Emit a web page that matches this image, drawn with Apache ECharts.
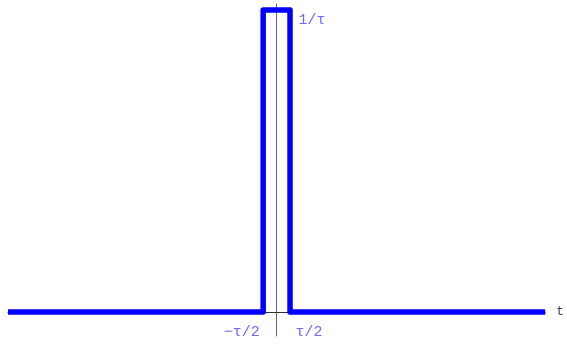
<!DOCTYPE html>
<html>
<head>
<meta charset="utf-8">
<style>
  html, body { margin: 0; padding: 0; background: #fff; }
  #chart { width: 567px; height: 344px; }
</style>
<script src="https://cdn.jsdelivr.net/npm/echarts@6/dist/echarts.min.js"></script>
</head>
<body>
<div id="chart"></div>
<script>
// Rectangular pulse of width tau and height 1/tau, centred on t = 0
const tau = 1;
const tRange = [-10, 10];
const pulseT = [tRange[0], -tau / 2, -tau / 2, tau / 2, tau / 2, tRange[1]];
const pulseY = [0, 0, 1 / tau, 1 / tau, 0, 0];
const pointLabels = ['', '\u2212\u03c4/2', '', '1/\u03c4', '\u03c4/2', ''];

const labelFont = { fontFamily: 'Liberation Mono', fontSize: 15, color: '#6b6bff' };
const labelPlacement = {
  '\u2212\u03c4/2': { position: 'left', offset: [2, 20] },
  '\u03c4/2': { position: 'right', offset: [0, 20] },
  '1/\u03c4': { position: 'right', offset: [3, 10] }
};

const data = pulseT.map((t, i) => {
  const text = pointLabels[i];
  const item = { value: [t, pulseY[i]] };
  if (text) {
    item.label = Object.assign({ show: true, formatter: text }, labelFont, labelPlacement[text]);
  }
  return item;
});

const chart = echarts.init(document.getElementById('chart'));
chart.setOption({
  animation: false,
  grid: { left: 8, right: 21, top: 4, bottom: 8 },
  xAxis: {
    type: 'value',
    min: tRange[0],
    max: tRange[1],
    name: 't',
    nameLocation: 'end',
    nameGap: 11,
    nameTextStyle: { fontFamily: 'Liberation Mono', fontSize: 13, color: '#444', verticalAlign: 'middle' },
    axisLine: { onZero: true, lineStyle: { color: '#333', width: 1 } },
    axisTick: { show: false },
    axisLabel: { show: false },
    splitLine: { show: false }
  },
  yAxis: {
    type: 'value',
    min: -0.0795,
    max: 1.02,
    axisLine: { show: true, onZero: true, lineStyle: { color: '#666', width: 1 } },
    axisTick: { show: false },
    axisLabel: { show: false },
    splitLine: { show: false }
  },
  series: [{
    type: 'line',
    data: data,
    showSymbol: true,
    symbol: 'circle',
    symbolSize: 1,
    itemStyle: { color: 'rgba(0,0,0,0)' },
    lineStyle: { color: '#0000ff', width: 5.5, join: 'round', cap: 'butt' },
    label: { show: false },
    z: 1
  }]
});
</script>
</body>
</html>
